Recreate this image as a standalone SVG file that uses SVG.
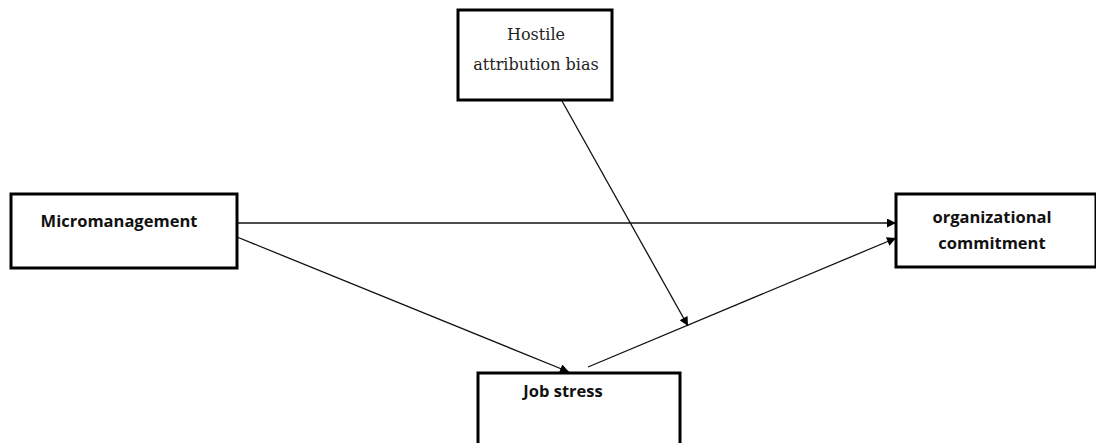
<svg xmlns="http://www.w3.org/2000/svg" width="1096" height="443" viewBox="0 0 1096 443">
<defs>
<style>
.box{fill:#fff;stroke:#000;stroke-width:3}
.sans{font-family:"Open Sans","Liberation Sans",Arial,sans-serif;font-weight:bold;font-size:16.5px;fill:#111;text-anchor:middle}
.serif{font-family:"DejaVu Serif","Liberation Serif",serif;font-size:16px;fill:#222;text-anchor:middle}
.conn{stroke:#111;stroke-width:1.3;fill:none;marker-end:url(#arr)}
</style>
<marker id="arr" viewBox="0 0 10 10" refX="10" refY="5" markerWidth="11" markerHeight="9" markerUnits="userSpaceOnUse" orient="auto">
<path d="M0,0 L10,5 L0,10 z" fill="#000"/>
</marker>
</defs>
<rect width="1096" height="443" fill="#fff"/>
<g id="connectors">
<line class="conn" x1="237" y1="223" x2="896" y2="223"/>
<line class="conn" x1="237" y1="237" x2="569" y2="372"/>
<line class="conn" x1="588" y1="367" x2="896" y2="238"/>
<line class="conn" x1="562" y1="101" x2="688" y2="326"/>
</g>
<g id="hostile">
<rect class="box" x="458" y="10" width="154" height="90"/>
<text class="serif" x="536" y="40">Hostile</text>
<text class="serif" x="536" y="70">attribution bias</text>
</g>
<g id="micromanagement">
<rect class="box" x="11" y="194" width="226" height="74"/>
<text class="sans" x="119" y="227">Micromanagement</text>
</g>
<g id="commitment">
<rect class="box" x="896" y="194" width="200" height="73"/>
<text class="sans" x="992" y="223">organizational</text>
<text class="sans" x="992" y="249">commitment</text>
</g>
<g id="jobstress">
<rect class="box" x="478" y="373" width="202" height="80"/>
<text class="sans" x="563" y="397">Job stress</text>
</g>
</svg>
